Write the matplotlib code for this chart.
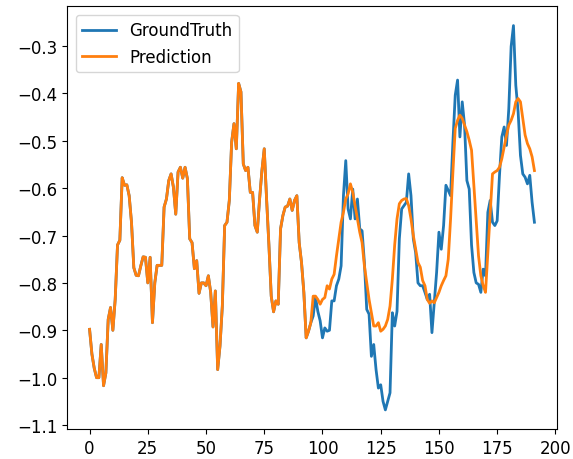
import matplotlib
matplotlib.use("Agg")
import matplotlib.pyplot as plt
import numpy as np

ground_truth = [
    -0.898, -0.95, -0.98, -1.0, -1.0, -0.93, -1.017, -0.99, -0.877, -0.852,
    -0.90, -0.835, -0.72, -0.71, -0.578, -0.594, -0.593, -0.616, -0.672, -0.768,
    -0.784, -0.785, -0.764, -0.745, -0.746, -0.80, -0.746, -0.884, -0.80, -0.763,
    -0.763, -0.763, -0.64, -0.623, -0.584, -0.57, -0.598, -0.655, -0.566, -0.556,
    -0.579, -0.556, -0.58, -0.707, -0.715, -0.77, -0.753, -0.822, -0.80, -0.80,
    -0.806, -0.785, -0.82, -0.893, -0.817, -0.983, -0.933, -0.849, -0.679, -0.672,
    -0.626, -0.503, -0.464, -0.517, -0.379, -0.397, -0.549, -0.563, -0.556, -0.609,
    -0.609, -0.679, -0.693, -0.623, -0.563, -0.517, -0.623, -0.72, -0.828, -0.861,
    -0.838, -0.845, -0.686, -0.658, -0.64, -0.638, -0.623, -0.647, -0.626, -0.616,
    -0.715, -0.757, -0.82, -0.916, -0.902, -0.884, -0.87, -0.83, -0.86, -0.88,
    -0.916, -0.895, -0.902, -0.90, -0.838, -0.838, -0.806, -0.792, -0.764, -0.616,
    -0.542, -0.644, -0.665, -0.602, -0.665, -0.623, -0.686, -0.69, -0.757, -0.856,
    -0.866, -0.955, -0.93, -0.983, -1.022, -1.015, -1.05, -1.068, -1.05, -1.032,
    -0.863, -0.891, -0.86, -0.707, -0.644, -0.637, -0.63, -0.57, -0.616, -0.707,
    -0.736, -0.80, -0.806, -0.806, -0.82, -0.835, -0.824, -0.905, -0.842, -0.778,
    -0.693, -0.729, -0.679, -0.594, -0.605, -0.616, -0.503, -0.404, -0.372, -0.492,
    -0.418, -0.467, -0.584, -0.602, -0.72, -0.778, -0.80, -0.803, -0.82, -0.771,
    -0.785, -0.651, -0.626, -0.672, -0.679, -0.669, -0.573, -0.492, -0.471, -0.51,
    -0.432, -0.301, -0.257, -0.383, -0.439, -0.531, -0.57, -0.577, -0.591, -0.573,
    -0.63, -0.672,
]

prediction_tail = [
    -0.828, -0.828, -0.835, -0.845, -0.835, -0.831, -0.806, -0.813, -0.792, -0.782,
    -0.743, -0.707, -0.672, -0.651, -0.623, -0.612, -0.591, -0.609, -0.637, -0.665,
    -0.693, -0.715, -0.764, -0.80, -0.835, -0.863, -0.891, -0.891, -0.884, -0.902,
    -0.898, -0.891, -0.877, -0.849, -0.792, -0.72, -0.665, -0.633, -0.626, -0.623,
    -0.622, -0.637, -0.665, -0.70, -0.729, -0.757, -0.767, -0.795, -0.806, -0.835,
    -0.843, -0.838, -0.842, -0.831, -0.82, -0.806, -0.795, -0.785, -0.75, -0.665,
    -0.566, -0.474, -0.457, -0.446, -0.453, -0.467, -0.481, -0.499, -0.52, -0.594,
    -0.669, -0.743, -0.785, -0.806, -0.82, -0.736, -0.651, -0.57, -0.566, -0.563,
    -0.556, -0.538, -0.513, -0.489, -0.467, -0.457, -0.443, -0.418, -0.411, -0.418,
    -0.453, -0.488, -0.506, -0.517, -0.534, -0.563,
]

input_len = 96
prediction = ground_truth[:input_len] + prediction_tail

fig = plt.figure(figsize=(5.73, 4.60), dpi=100)
ax = fig.add_axes([0.1175, 0.065, 0.854, 0.919])
ax.plot(ground_truth, label="GroundTruth", linewidth=2)
ax.plot(prediction, label="Prediction", linewidth=2)
ax.legend(loc="upper left", fontsize=12)
ax.tick_params(labelsize=12)
fig.savefig("out.png", dpi=100)
